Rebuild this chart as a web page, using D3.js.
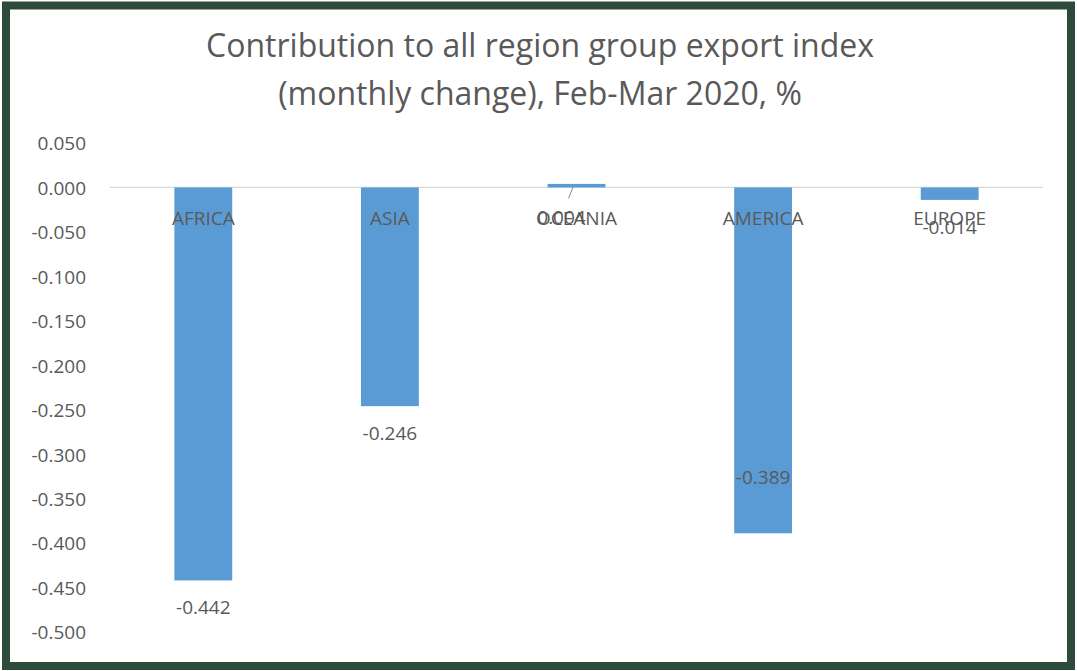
<!DOCTYPE html>
<html>
<head>
<meta charset="utf-8">
<script src="https://cdn.jsdelivr.net/npm/d3@7"></script>
<style>
  html, body { margin: 0; padding: 0; background: #fff; }
  svg { display: block; }
  text { font-family: "Open Sans", "Noto Sans", sans-serif; fill: #595959; }
</style>
</head>
<body>
<svg id="chart" width="1077" height="671"></svg>
<script>
var regions = ["AFRICA", "ASIA", "OCEANIA", "AMERICA", "EUROPE"]
var values = [-0.442, -0.246, 0.004, -0.389, -0.014]
var labels = ["-0.442", "-0.246", "0.004", "-0.389", "-0.014"]
var yTicks = [0.05, 0, -0.05, -0.1, -0.15, -0.2, -0.25, -0.3, -0.35, -0.4, -0.45, -0.5]
var titleLines = ["Contribution to all region group export index", "(monthly change), Feb-Mar 2020, %"]

var width = 1077, height = 671
var svg = d3.select('#chart')

// frame
svg.append('rect').attr('x', 0).attr('y', 0).attr('width', width).attr('height', height).attr('fill', '#fff')
svg.append('rect')
    .attr('x', 6).attr('y', 5.5)
    .attr('width', width - 12).attr('height', height - 10.5)
    .attr('fill', 'none')
    .attr('stroke', '#2e4a3a')
    .attr('stroke-width', 8)

var x = d3.scaleBand().domain(regions).range([110, 1043]).paddingInner(0.69).paddingOuter(0.345)
var y = d3.scaleLinear().domain([0.05, -0.5]).range([143, 632])

// title
svg.append('g').selectAll('text')
    .data(titleLines)
    .enter()
    .append('text')
    .attr('x', 540)
    .attr('y', (d, i) => 57 + i * 48)
    .attr('text-anchor', 'middle')
    .style('font-size', '32px')
    .text(d => d)

// y axis labels (plain hyphen like excel)
var fmt = d3.format('.3f')
var yAxis = d3.axisLeft(y).tickValues(yTicks).tickSize(0).tickPadding(0)
    .tickFormat(d => fmt(d).replace('\u2212', '-'))
var ga = svg.append('g').attr('transform', 'translate(86,0)').call(yAxis)
ga.select('.domain').remove()
ga.selectAll('text')
    .attr('fill', '#595959')
    .attr('dy', '0.36em')
    .style('font-size', '19px')
    .style('font-family', '"Open Sans", "Noto Sans", sans-serif')

// zero line
svg.append('line')
    .attr('x1', 110).attr('x2', 1043)
    .attr('y1', y(0)).attr('y2', y(0))
    .attr('stroke', '#d9d9d9')
    .attr('stroke-width', 1.3)

// bars
svg.append('g').selectAll('rect')
    .data(values)
    .enter()
    .append('rect')
    .attr('x', (d, i) => x(regions[i]))
    .attr('width', x.bandwidth())
    .attr('y', d => Math.min(y(0), y(d)))
    .attr('height', d => Math.abs(y(d) - y(0)))
    .attr('fill', '#5b9bd5')

// category labels
svg.append('g').selectAll('text')
    .data(regions)
    .enter()
    .append('text')
    .attr('x', d => x(d) + x.bandwidth() / 2)
    .attr('y', 225)
    .attr('text-anchor', 'middle')
    .style('font-size', '19px')
    .text(d => d)

// data labels, Excel put a few of them somewhere else
var labelShift = { AMERICA: -49, OCEANIA: 37 }
var labelDx = { OCEANIA: -15 }
svg.append('g').selectAll('text')
    .data(values)
    .enter()
    .append('text')
    .attr('x', (d, i) => x(regions[i]) + x.bandwidth() / 2 + (labelDx[regions[i]] || 0))
    .attr('y', (d, i) => {
        var r = regions[i]
        var base = d < 0 ? y(d) : y(0)
        return base + (labelShift[r] != null ? labelShift[r] : 34)
    })
    .attr('text-anchor', 'middle')
    .style('font-size', '19px')
    .text((d, i) => labels[i])

// leader line for the small oceania label
var ox = x('OCEANIA') + x.bandwidth() / 2
svg.append('line')
    .attr('x1', ox - 3).attr('y1', y(0.004) + 2)
    .attr('x2', ox - 8).attr('y2', y(0) + 11)
    .attr('stroke', '#8c8c8c')
    .attr('stroke-width', 1)
</script>
</body>
</html>
